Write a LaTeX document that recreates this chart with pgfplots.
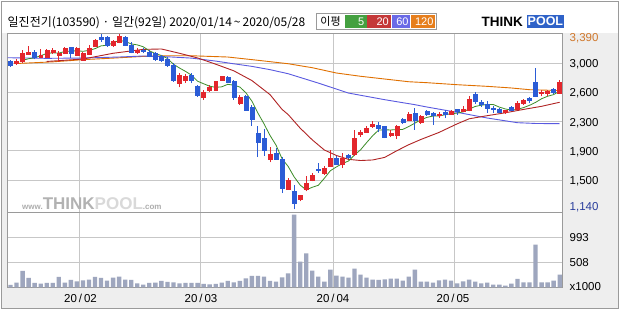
\documentclass[border=0pt]{standalone}
\usepackage{fontspec}
\setmainfont{Liberation Sans}
\newfontfamily\kr{Noto Sans CJK KR}
\usepackage{pgfplots}
\usepackage{pgfplotstable}
\pgfplotsset{compat=1.18}
\definecolor{kred}{HTML}{E3262C}
\definecolor{kblue}{HTML}{2B5CD6}
\definecolor{ma5}{HTML}{3C8C28}
\definecolor{ma20}{HTML}{B02424}
\definecolor{ma60}{HTML}{5A5AE0}
\definecolor{ma120}{HTML}{E07000}
\definecolor{lg5}{HTML}{44A040}
\definecolor{lg20}{HTML}{C43838}
\definecolor{lg60}{HTML}{6A6AE6}
\definecolor{lg120}{HTML}{E67E1C}
\definecolor{volc}{HTML}{9EA6BE}
\definecolor{framec}{HTML}{9A9A9A}
\definecolor{panel}{HTML}{EEEEEE}
\definecolor{hiC}{HTML}{D0782C}
\definecolor{loC}{HTML}{283C9C}
\definecolor{tpblue}{HTML}{2F62C8}

\pgfplotstableread{
i O H L C
0 3032 3054 2968 2990
1 3011 3062 2990 3032
2 3032 3182 3019 3139
3 3130 3237 3118 3160
4 3148 3182 3062 3096
5 3088 3190 3075 3118
6 3096 3190 3088 3173
7 3148 3203 3130 3182
8 3118 3173 3032 3139
9 3139 3225 3130 3203
10 3212 3225 3075 3139
11 3118 3216 3105 3203
12 3054 3160 3045 3139
13 3130 3246 3118 3203
14 3233 3318 3225 3310
15 3352 3390 3289 3318
16 3344 3361 3225 3246
17 3246 3310 3225 3289
18 3276 3383 3267 3361
19 3344 3361 3233 3246
20 3246 3289 3139 3160
21 3160 3203 3130 3182
22 3182 3203 3139 3165
23 3160 3182 3088 3105
24 3139 3160 3045 3062
25 3105 3118 3032 3045
26 3070 3096 2968 2990
27 2990 3011 2776 2797
28 2750 2883 2703 2861
29 2800 2874 2763 2849
30 2861 2883 2755 2797
31 2716 2733 2583 2605
32 2583 2669 2541 2635
33 2669 2733 2648 2703
34 2669 2789 2660 2776
35 2801 2849 2789 2840
36 2835 2849 2755 2763
37 2780 2797 2541 2583
38 2506 2605 2477 2583
39 2595 2605 2400 2410
40 2445 2481 2211 2289
41 2109 2203 1810 2002
42 2049 2169 1827 1895
43 1784 1938 1741 1840
44 1861 1925 1775 1784
45 1776 1810 1348 1412
46 1399 1540 1390 1519
47 1370 1455 1140 1220
48 1263 1327 1241 1314
49 1391 1570 1370 1476
50 1510 1605 1498 1583
51 1660 1733 1605 1643
52 1605 1690 1583 1669
53 1698 1904 1690 1797
54 1797 1827 1712 1724
55 1712 1861 1669 1797
56 1827 1852 1784 1810
57 1840 2160 1827 2053
58 2105 2152 2066 2126
59 2126 2203 2118 2182
60 2203 2267 2182 2237
61 2216 2254 2126 2182
62 2203 2212 2053 2066
63 2096 2152 2066 2117
64 2096 2224 2040 2203
65 2297 2310 2237 2254
66 2288 2391 2280 2365
67 2374 2438 2160 2280
68 2254 2352 2237 2331
69 2395 2408 2340 2361
70 2374 2382 2224 2340
71 2340 2382 2310 2365
72 2387 2408 2310 2361
73 2365 2417 2357 2400
74 2417 2425 2352 2395
75 2391 2460 2382 2425
76 2408 2596 2395 2545
77 2609 2639 2494 2524
78 2511 2545 2451 2481
79 2490 2524 2374 2438
80 2438 2468 2374 2425
81 2425 2438 2374 2382
82 2387 2417 2365 2404
83 2451 2460 2395 2404
84 2425 2524 2417 2494
85 2494 2554 2481 2532
86 2567 2575 2502 2532
87 2767 2951 2579 2588
88 2622 2665 2588 2639
89 2631 2673 2596 2652
90 2682 2695 2622 2639
91 2631 2801 2622 2767
}\ohlc

\pgfplotstableread{
i V
0 47
1 94
2 328
3 188
4 87
5 74
6 87
7 87
8 208
9 94
10 147
11 121
12 141
13 154
14 208
15 188
16 134
17 194
18 214
19 154
20 147
21 80
22 54
23 87
24 94
25 127
26 107
27 100
28 80
29 87
30 87
31 87
32 67
33 60
34 67
35 94
36 127
37 100
38 127
39 180
40 228
41 228
42 214
43 127
44 114
45 201
46 281
47 1460
48 516
49 683
50 335
51 214
52 114
53 355
54 234
55 214
56 194
57 375
58 255
59 194
60 154
61 147
62 161
63 174
64 174
65 134
66 214
67 355
68 114
69 114
70 94
71 141
72 154
73 134
74 80
75 121
76 154
77 114
78 80
79 94
80 54
81 54
82 34
83 74
84 168
85 100
86 100
87 858
88 100
89 100
90 134
91 255
}\vol

\gdef\candles{}
\pgfplotsforeachungrouped \r in {0,...,91}{%
  \pgfplotstablegetelem{\r}{O}\of\ohlc \let\vO\pgfplotsretval
  \pgfplotstablegetelem{\r}{H}\of\ohlc \let\vH\pgfplotsretval
  \pgfplotstablegetelem{\r}{L}\of\ohlc \let\vL\pgfplotsretval
  \pgfplotstablegetelem{\r}{C}\of\ohlc \let\vC\pgfplotsretval
  \pgfmathsetmacro\xl{\r-0.33}%
  \pgfmathsetmacro\xr{\r+0.33}%
  \ifdim\vC pt<\vO pt\relax \def\cc{kblue}\else\def\cc{kred}\fi
  \xdef\candles{\unexpanded\expandafter{\candles}%
    \noexpand\addplot[\cc, line width=0.9pt, forget plot] coordinates {(\r,\vL) (\r,\vH)};%
    \noexpand\addplot[fill=\cc, draw=\cc, line width=0.4pt, forget plot] coordinates {(\xl,\vO) (\xr,\vO) (\xr,\vC) (\xl,\vC)} -- cycle;}%
}

\pgfplotsset{kax/.style={
  scale only axis, width=555.2pt, xmin=-0.5, xmax=91.5,
  anchor=south west,
  enlargelimits=false,
  axis line style={framec, line width=0.8pt},
  xtick=\empty, ytick=\empty,
  clip=true,
}}

\begin{document}
\begin{tikzpicture}[x=1pt,y=1pt]
\fill[white] (0,0) rectangle (620,310);
\fill[panel] (562.7,1.5) rectangle (617.5,277);
\fill[panel] (1.5,1.5) rectangle (617.5,22.7);
\fill[panel] (1.5,1.5) rectangle (7.5,277);
\draw[framec, line width=0.9pt] (1.3,1.3) rectangle (618.2,308.7);

% background grid (price: 1515,1890,2265,2640,3015; volume: 508,993; months)
\begin{scope}[black!22, line width=0.9pt]
\foreach \gx in {79.9,200.6,333.4,454.1} {\draw (\gx,22.7) -- (\gx,277);}
\foreach \gy in {130.0,159.2,188.5,217.7,247.0,47.95,72.05} {\draw (7.5,\gy) -- (562.7,\gy);}
\end{scope}

% price panel
\begin{axis}[kax, at={(7.5pt,98pt)}, height=179pt,
  ymin=1105, ymax=3400]
\addplot[ma120, line width=0.9pt] coordinates {
(1,3010) (2,3012) (7,3030) (12,3058) (17,3078) (22,3100) (26,3108) (30,3108)
(36,3092) (41,3050) (46,3006) (50,2955) (54,2887) (58,2845) (62,2810)
(66,2775) (69,2763) (74,2737) (79,2716) (83,2695) (86,2673) (91,2662)};
\addplot[ma60, line width=0.9pt] coordinates {
(-0.5,3083) (6,3075) (12,3079) (18,3092) (22,3105) (26,3095) (30,3078)
(34,3040) (37,3005) (40,2972) (43,2930) (46,2878) (51,2758) (56,2630)
(62,2545) (67,2481) (69,2451) (74,2383) (79,2310) (84,2250) (87,2240) (91,2237)};
\addplot[ma20, line width=0.9pt] coordinates {
(6,3035) (12,3066) (17,3140) (22,3190) (25,3195) (28,3140) (31,3080)
(34,3000) (37,2915) (40,2790) (43,2610) (45,2420) (46,2355) (48,2180)
(50,2030) (52,1900) (54,1830) (56,1780) (58,1765) (60,1772) (62,1805)
(64,1890) (66,1968) (68,2035) (71,2125) (74,2235) (76,2300) (79,2340)
(82,2377) (85,2420) (88,2460) (91,2512)};
\addplot[ma5, line width=0.8pt] coordinates {
(2,3050) (3,3070) (4,3083) (5,3109) (6,3137) (7,3146) (8,3142) (9,3163)
(10,3167) (11,3173) (12,3165) (13,3177) (14,3199) (15,3235) (16,3243)
(17,3273) (18,3305) (19,3292) (20,3260) (21,3248) (22,3223) (23,3172)
(24,3135) (25,3112) (26,3073) (27,3000) (28,2951) (29,2908) (30,2859)
(31,2782) (32,2749) (33,2718) (34,2703) (35,2710) (36,2742) (37,2731)
(38,2707) (39,2634) (40,2526) (41,2373) (42,2236) (43,2087) (44,1962)
(45,1787) (46,1690) (47,1555) (48,1450) (49,1388) (50,1422) (51,1447)
(52,1537) (53,1634) (54,1683) (55,1726) (56,1759) (57,1836) (58,1902)
(59,1994) (60,2082) (61,2156) (62,2159) (63,2157) (64,2161) (65,2164)
(66,2201) (67,2244) (68,2287) (69,2318) (70,2335) (71,2335) (72,2352)
(73,2365) (74,2372) (75,2389) (76,2425) (77,2458) (78,2474) (79,2483)
(80,2483) (81,2450) (82,2426) (83,2411) (84,2422) (85,2443) (86,2473)
(87,2510) (88,2557) (89,2589) (90,2610) (91,2657)};
\candles
\end{axis}

% volume panel
\begin{axis}[kax, at={(7.5pt,22.7pt)}, height=75.3pt,
  ymin=0, ymax=1515]
\addplot[ybar, bar width=0.72, bar shift=0pt, fill=volc, draw=none] table[x=i, y=V] {\vol};
\end{axis}

% title
\node[anchor=west, inner sep=0pt] at (7.5,287.5) {\kr\fontsize{12}{12}\selectfont 일진전기(103590) · 일간(92일) 2020/01/14\,\textasciitilde\,2020/05/28};

% MA legend
\draw[framec, fill=white, line width=0.6pt] (316,296.5) rectangle (436,280.5);
\node[inner sep=0pt] at (330.5,288.5) {\kr\fontsize{11}{11}\selectfont 이평};
\fill[lg5] (345.3,295) rectangle (366.5,282);
\fill[lg20] (367.3,295) rectangle (390.8,282);
\fill[lg60] (391.6,295) rectangle (410.2,282);
\fill[lg120] (411,295) rectangle (434.8,282);
\node[anchor=east, inner sep=0pt, white] at (364.5,288.5) {\fontsize{11}{11}\selectfont 5};
\node[anchor=east, inner sep=0pt, white] at (389,288.5) {\fontsize{11}{11}\selectfont 20};
\node[anchor=east, inner sep=0pt, white] at (408.8,288.5) {\fontsize{11}{11}\selectfont 60};
\node[anchor=east, inner sep=0pt, white] at (433.6,288.5) {\fontsize{11}{11}\selectfont 120};

% ThinkPool logo
\node[anchor=west, inner sep=0pt] at (481.5,288.5) {\bfseries\fontsize{13.5}{13.5}\selectfont THINK};
\fill[tpblue] (526.8,295.3) rectangle (564,281.5);
\node[inner sep=0pt, white] at (545.4,288.4) {\bfseries\fontsize{12.5}{12.5}\selectfont POOL};

% watermark
\node[anchor=south west, inner sep=0pt] at (22,100.5) {{\color{black!32}\bfseries\fontsize{8}{8}\selectfont www.}{\color{black!30}\bfseries\fontsize{17}{17}\selectfont THINK}{\color{black!15}\bfseries\fontsize{17}{17}\selectfont POOL}{\color{black!32}\bfseries\fontsize{8}{8}\selectfont .com}};

\begin{scope}[every node/.style={anchor=west, inner sep=0pt, font=\fontsize{11.5}{11.5}\selectfont}]
\node[text=hiC] at (569.5,272) {3,390};
\node at (569.5,246) {3,000};
\node at (569.5,217) {2,600};
\node at (569.5,187) {2,300};
\node at (569.5,158) {1,900};
\node at (569.5,129) {1,500};
\node[text=loC] at (569.5,103) {1,140};
\node at (569.5,72.3) {993};
\node at (569.5,47.7) {508};
\node at (569.5,23.3) {x1000};
\end{scope}

\begin{scope}[every node/.style={inner sep=0pt, font=\fontsize{11.5}{11.5}\selectfont}]
\node at (80.5,11.5) {20\,/\,02};
\node at (201,11.5) {20\,/\,03};
\node at (333,11.5) {20\,/\,04};
\node at (453,11.5) {20\,/\,05};
\end{scope}

\pgfresetboundingbox
\useasboundingbox (0,0) rectangle (620,310);
\end{tikzpicture}
\end{document}
